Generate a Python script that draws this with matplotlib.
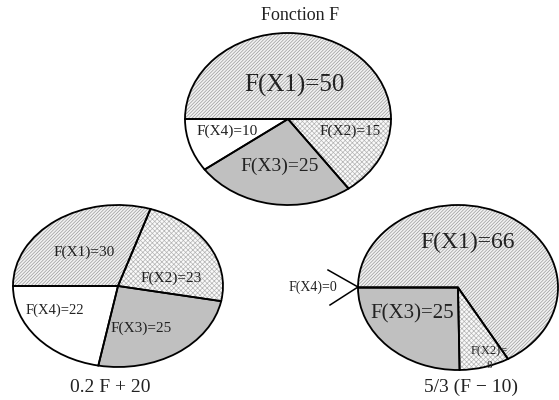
import matplotlib
matplotlib.use("Agg")
import matplotlib.pyplot as plt

plt.rcParams["font.family"] = ["Liberation Serif", "DejaVu Serif"]
plt.rcParams["hatch.linewidth"] = 0.5

# F(X1)..F(X4) for each transform
slots = ["X1", "X2", "X3", "X4"]
f_base = [50, 15, 25, 10]
f_affine = [30, 23, 25, 22]
f_shift = [66, 8, 25, 0]

titles = ["Fonction F", "0.2 F + 20", "5/3 (F \u2212 10)"]

# drawing order round the pie (counter-clockwise): X1, X4, X3, X2
draw_order = [0, 3, 2, 1]
fills = {
    0: dict(facecolor="#f2f2f2", hatch="//////////", edgecolor="#9a9a9a"),
    1: dict(facecolor="#fafafa", hatch="xxxxxxx", edgecolor="#b4b4b4"),
    2: dict(facecolor="#c0c0c0", hatch=None, edgecolor="#c0c0c0"),
    3: dict(facecolor="white", hatch=None, edgecolor="white"),
}

W, H = 559, 400
fig = plt.figure(figsize=(W / 100, H / 100), dpi=100)


def pie_axes(x0, y0, x1, y1):
    return fig.add_axes([x0 / W, 1 - y1 / H, (x1 - x0) / W, (y1 - y0) / H])


def draw_pie(ax, values, startangle):
    vals = [values[i] for i in draw_order]
    wedges, _ = ax.pie(vals, startangle=startangle, radius=1.0,
                       wedgeprops=dict(linewidth=0))
    for w, i in zip(wedges, draw_order):
        st = fills[i]
        w.set_facecolor(st["facecolor"])
        w.set_edgecolor(st["edgecolor"])
        if st["hatch"]:
            w.set_hatch(st["hatch"])
    outlines, _ = ax.pie(vals, startangle=startangle, radius=1.0,
                         wedgeprops=dict(facecolor="none", edgecolor="black",
                                         linewidth=1.3))
    for w in list(wedges) + list(outlines):
        w.set_clip_on(False)
    ax.set_aspect("auto")
    ax.set_xlim(-1, 1)
    ax.set_ylim(-1, 1)
    ax.axis("off")


ax_top = pie_axes(185, 33, 391, 205)
draw_pie(ax_top, f_base, 0)
ax_left = pie_axes(13, 205, 223, 367)
draw_pie(ax_left, f_affine, 72)
ax_right = pie_axes(358, 205, 558, 370)
draw_pie(ax_right, f_shift, 180 - 360 * f_shift[0] / sum(f_shift))

# overlay in pixel coordinates for the labels
ov = fig.add_axes([0, 0, 1, 1], zorder=5)
ov.set_xlim(0, W)
ov.set_ylim(H, 0)
ov.axis("off")


def lab(x, y, text, size):
    ov.text(x, y, text, fontsize=size, ha="center", va="center", color="#222222")


def name(k, vals):
    return f"F({slots[k]})={vals[k]}"


lab(300, 16, titles[0], 13)
lab(294, 85, name(0, f_base), 18)
lab(227, 131, name(3, f_base), 11)
lab(350, 131, name(1, f_base), 11)
lab(280, 166, name(2, f_base), 14)

lab(84, 252, name(0, f_affine), 11)
lab(171, 278, name(1, f_affine), 11)
lab(55, 310, name(3, f_affine), 10.5)
lab(141, 328, name(2, f_affine), 11)
lab(110, 387, titles[1], 14)

lab(468, 242, name(0, f_shift), 17)
lab(412, 314, name(2, f_shift), 15)
lab(489, 351, f"F({slots[1]})=", 9)
lab(489, 365, str(f_shift[1]), 8)
lab(313, 287, name(3, f_shift), 10)
lab(471, 387, titles[2], 14)

# pointer marking the empty X4 slice
ov.plot([328, 358, 330], [270, 287, 305], color="black", linewidth=1.1)

fig.savefig("out.png", dpi=100, facecolor="white")
